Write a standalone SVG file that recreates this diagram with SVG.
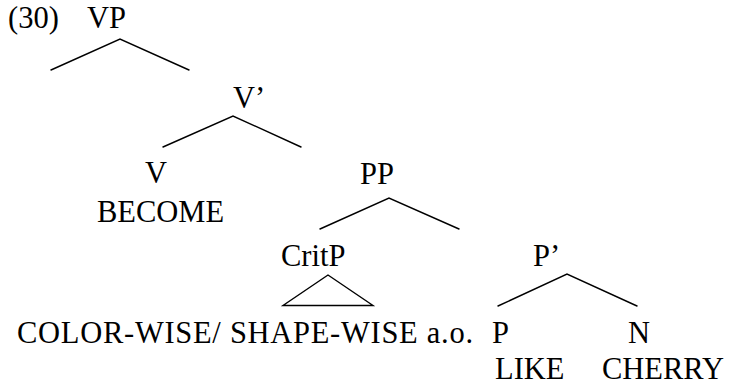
<svg xmlns="http://www.w3.org/2000/svg" width="730" height="385" viewBox="0 0 730 385">
<style>
text{font-family:"Liberation Serif","Times New Roman",serif;font-size:30.5px;fill:#000}
.e{stroke:#000;stroke-width:1.4;fill:none;stroke-linecap:round}
</style>
<rect width="730" height="385" fill="#fff"/>
<text id="ex" x="8" y="28">(30)</text>
<g id="VP"><text x="87" y="28">VP</text></g>
<g id="Vbar"><text x="233" y="108">V’</text></g>
<g id="V"><text x="145" y="183">V</text><text x="97" y="222">BECOME</text></g>
<g id="PP"><text x="360" y="184">PP</text></g>
<g id="CritP"><text x="281" y="266">CritP</text><polygon class="e" points="328,275 283,305.5 373,305.5"/><text x="17" y="343" textLength="456">COLOR-WISE/ SHAPE-WISE a.o.</text></g>
<g id="Pbar"><text x="533" y="266">P’</text></g>
<g id="P"><text x="492" y="343">P</text><text x="495" y="379">LIKE</text></g>
<g id="N"><text x="628" y="343">N</text><text x="602" y="379">CHERRY</text></g>
<g id="connectors">
<polyline class="e" points="51,70 120,39 189,70"/>
<polyline class="e" points="163,147 233,116 301,147"/>
<polyline class="e" points="320,229 389,198 459,229"/>
<polyline class="e" points="498,306 567,274 637,306"/>
</g>
</svg>
